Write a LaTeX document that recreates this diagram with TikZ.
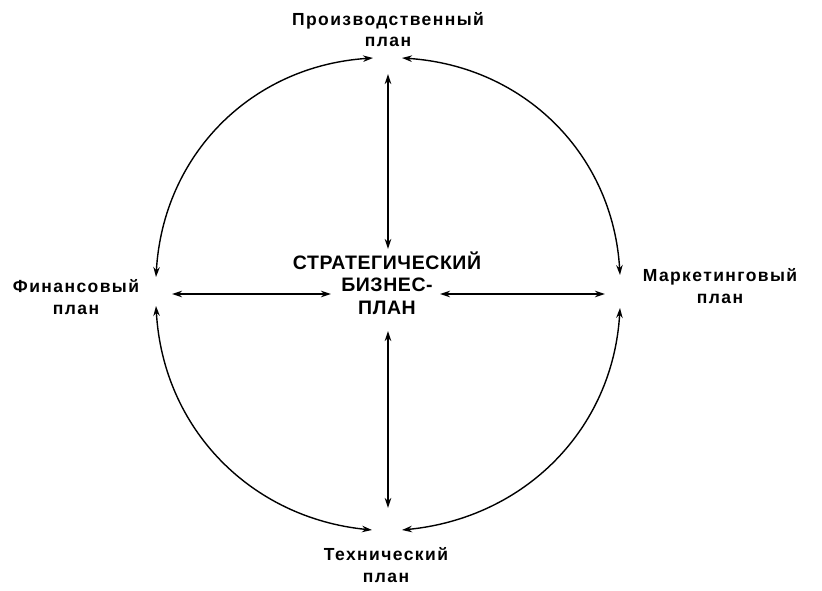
\documentclass[tikz,border=0pt]{standalone}
\usepackage{fontspec}
\setmainfont{Liberation Sans}
\newfontfamily\labfont[LetterSpace=8]{Liberation Sans}
\newfontfamily\ctrfont[LetterSpace=3]{Liberation Sans}
\usetikzlibrary{arrows.meta}
\begin{document}
\begin{tikzpicture}[x=1pt,y=-1pt,
  lab/.style={font=\labfont\bfseries\fontsize{17.5}{21.5}\selectfont, align=center, inner sep=0pt, anchor=base},
  ctr/.style={font=\ctrfont\bfseries\fontsize{19.5}{22.5}\selectfont, align=center, inner sep=0pt, anchor=base},
  link/.style={line width=1.4pt, {Stealth[length=10pt,width=6.5pt]}-{Stealth[length=10pt,width=6.5pt]}}]
\useasboundingbox (0,0) rectangle (822,591);
% labels (anchored at the baseline of their last line)
\node[lab] (prod) at (388,47) {Производственный\\план};
\node[lab] (fin) at (76,314) {Финансовый\\план};
\node[lab] (mark) at (720,303) {Маркетинговый\\план};
\node[lab] (tech) at (386,582) {Технический\\план};
\node[ctr] (sbp) at (387,314) {СТРАТЕГИЧЕСКИЙ\\БИЗНЕС-\\ПЛАН};
% connector ends
\coordinate (pL) at (373,58);
\coordinate (pR) at (402,58);
\coordinate (pD) at (388,74);
\coordinate (fU) at (156,277);
\coordinate (fD) at (156,306);
\coordinate (fR) at (172,294);
\coordinate (mU) at (620,275);
\coordinate (mD) at (620,308);
\coordinate (mL) at (605,294);
\coordinate (tL) at (372,530);
\coordinate (tR) at (402,530);
\coordinate (tU) at (388,508);
\coordinate (sU) at (388,249);
\coordinate (sD) at (388,331);
\coordinate (sL) at (331,294);
\coordinate (sR) at (440,294);
% arcs
\draw[link] (fU) .. controls (163,155) and (251,66) .. (pL);
\draw[link] (pR) .. controls (525,66) and (613,155) .. (mU);
\draw[link] (fD) .. controls (163,429) and (251,518) .. (tL);
\draw[link] (tR) .. controls (525,518) and (613,429) .. (mD);
% spokes
\draw[link] (pD) -- (sU);
\draw[link] (sD) -- (tU);
\draw[link] (fR) -- (sL);
\draw[link] (sR) -- (mL);
\end{tikzpicture}
\end{document}
